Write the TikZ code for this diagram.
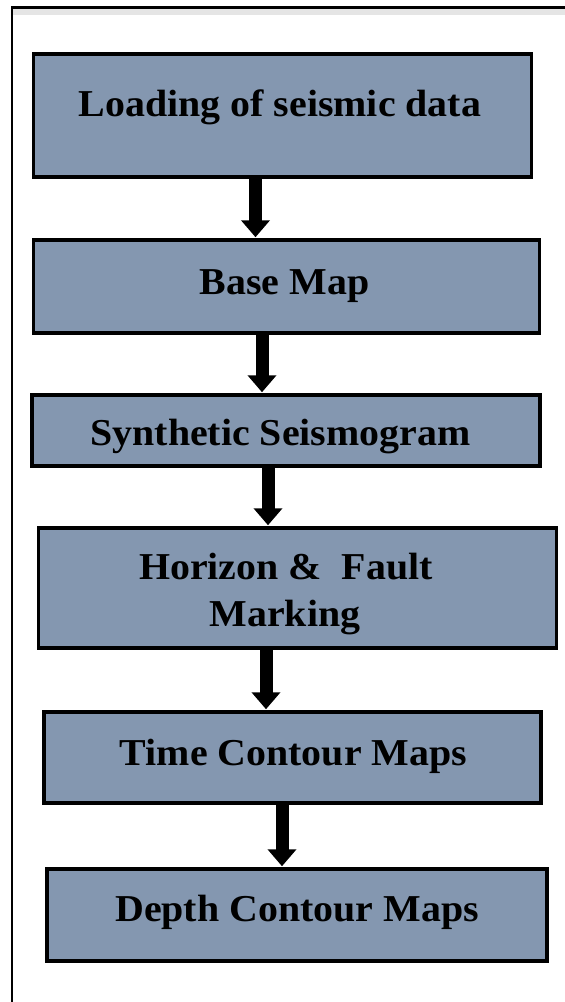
\documentclass[tikz,border=0pt]{standalone}
\usepackage{fontspec}
\setmainfont{Liberation Serif}[FakeStretch=1.05]
\usetikzlibrary{arrows.meta}
\definecolor{boxfill}{HTML}{8497B0}
\tikzset{
  box/.style={draw=black, line width=3.5pt, fill=boxfill, rectangle, inner sep=0pt},
  lbl/.style={anchor=base, inner sep=0pt, font=\fontsize{38}{47}\selectfont\bfseries, text=black},
  flowarrow/.style={line width=13pt, -{Triangle[width=28pt,length=17pt]}, draw=black, shorten >=1pt}
}
\begin{document}
\begin{tikzpicture}[x=1pt,y=-1pt]
\useasboundingbox (0,0) rectangle (565,1002);
\fill[white] (0,0) rectangle (565,1002);
\fill[black!10] (13,9) rectangle (565,15);
\draw[line width=2.5pt] (12,1010) -- (12,7.5) -- (570,7.5);

\node[box, minimum width=498pt, minimum height=123pt] (n1) at (282.5,115.5) {};
\node[box, minimum width=506pt, minimum height=93pt] (n2) at (286.5,286.5) {};
\node[box, minimum width=508pt, minimum height=71pt] (n3) at (286,430.5) {};
\node[box, minimum width=518pt, minimum height=120pt] (n4) at (297.5,588) {};
\node[box, minimum width=497pt, minimum height=91pt] (n5) at (292.5,757.5) {};
\node[box, minimum width=500pt, minimum height=92pt] (n6) at (297,915) {};

\node[lbl] (t1) at (280,116) {Loading of seismic data};
\node[lbl] (t2) at (284.5,294.5) {Base Map};
\node[lbl] (t3) at (280.5,445) {Synthetic Seismogram};
\node[lbl] (t4a) at (286,579) {Horizon \&\ \ Fault};
\node[lbl] (t4b) at (285,626) {Marking};
\node[lbl] (t5) at (293.5,765) {Time Contour Maps};
\node[lbl] (t6) at (297,921.5) {Depth Contour Maps};

\draw[flowarrow] ([xshift=-27pt]n1.south) -- ([xshift=-31pt]n2.north);
\draw[flowarrow] ([xshift=-24.5pt]n2.south) -- ([xshift=-24pt]n3.north);
\draw[flowarrow] ([xshift=-18pt]n3.south) -- ([xshift=-29.5pt]n4.north);
\draw[flowarrow] ([xshift=-31.5pt]n4.south) -- ([xshift=-26.5pt]n5.north);
\draw[flowarrow] ([xshift=-10.5pt]n5.south) -- ([xshift=-15pt]n6.north);
\end{tikzpicture}
\end{document}
